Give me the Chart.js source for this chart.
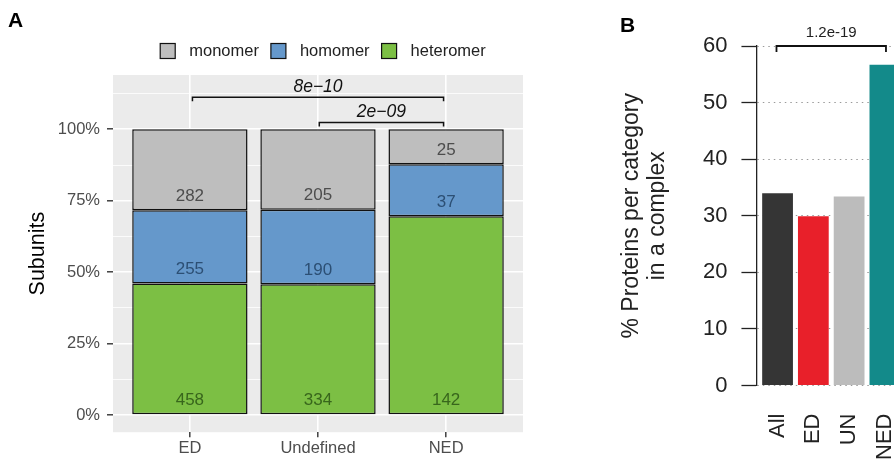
<!DOCTYPE html>
<html>
<head>
<meta charset="utf-8">
<script src="https://cdn.jsdelivr.net/npm/chart.js@4.4.0/dist/chart.umd.min.js"></script>
<style>
html, body { margin:0; padding:0; background:#fff; overflow:hidden; width:894px; height:459px; position:relative; }
#wrapA { position:absolute; left:0; top:0; }
#wrapB { position:absolute; left:580px; top:0; }
</style>
</head>
<body>
<div id="wrapA"><canvas id="chartA" width="560" height="459"></canvas></div>
<div id="wrapB"><canvas id="chartB" width="360" height="488"></canvas></div>
<script>
const FONT = '"Liberation Sans", Arial, Helvetica, sans-serif';

// A: subunit counts per disorder category
const groupsA = ['ED', 'Undefined', 'NED'];
const heteromer = [458, 334, 142];
const homomer = [255, 190, 37];
const monomer = [282, 205, 25];
const majorA = [0, 0.25, 0.5, 0.75, 1];
const minorA = [0.125, 0.375, 0.625, 0.875, 1.125];
// significance brackets (x in group units, y in fraction)
const bracketsA = [
  { from: 1.02, to: 2.98, y: 1.112, label: '8e\u221210' },
  { from: 2.01, to: 2.98, y: 1.024, label: '2e\u221209' }
];

// B: % proteins per category in a complex
const groupsB = ['All', 'ED', 'UN', 'NED'];
const pctB = [34.0, 29.9, 33.4, 56.7];
const colorsB = ['#353535', '#e8202a', '#bcbcbc', '#138a8a'];
const bracketB = { from: 0.97, to: 4.03, y: 60, label: '1.2e-19' };

const totals = heteromer.map((v, i) => v + homomer[i] + monomer[i]);
const share = arr => arr.map((v, i) => ({ x: i + 1, y: v / totals[i] }));

const seriesA = [
  { label: 'heteromer', counts: heteromer, fill: '#7cbf44', text: '#38661c' },
  { label: 'homomer', counts: homomer, fill: '#6598cb', text: '#2c4f74' },
  { label: 'monomer', counts: monomer, fill: '#bebebe', text: '#4d4d4d' }
];

const panelA = {
  id: 'panelA',
  beforeDraw(chart) {
    const { ctx, chartArea: a } = chart;
    ctx.save();
    ctx.fillStyle = '#ebebeb';
    ctx.fillRect(a.left, a.top, a.right - a.left, a.bottom - a.top);
    ctx.fillStyle = '#000';
    ctx.font = 'bold 21px ' + FONT;
    ctx.textBaseline = 'alphabetic';
    ctx.fillText('A', 8, 27);
    ctx.restore();
  },
  afterDatasetsDraw(chart) {
    const { ctx, scales: { x, y }, chartArea: a } = chart;
    ctx.save();
    // counts inside segments
    ctx.font = '17px ' + FONT;
    ctx.textAlign = 'center';
    ctx.textBaseline = 'middle';
    const base = groupsA.map(() => 0);
    seriesA.forEach((s, k) => {
      const meta = chart.getDatasetMeta(k);
      s.counts.forEach((c, j) => {
        ctx.fillStyle = s.text;
        ctx.fillText(String(c), meta.data[j].x, y.getPixelForValue(base[j] + 0.05));
        base[j] += c / totals[j];
      });
    });
    // brackets
    ctx.strokeStyle = '#111';
    ctx.lineWidth = 1.5;
    ctx.fillStyle = '#111';
    ctx.font = 'italic 17.5px ' + FONT;
    bracketsA.forEach(b => {
      const x1 = x.getPixelForValue(b.from), x2 = x.getPixelForValue(b.to);
      const py = y.getPixelForValue(b.y);
      ctx.beginPath();
      ctx.moveTo(x1, py + 4); ctx.lineTo(x1, py); ctx.lineTo(x2, py); ctx.lineTo(x2, py + 4);
      ctx.stroke();
      ctx.fillText(b.label, (x1 + x2) / 2, py - 10);
    });
    // legend
    ctx.font = '16.5px ' + FONT;
    ctx.textAlign = 'left';
    const items = seriesA.slice().reverse();
    const widths = items.map(s => ctx.measureText(s.label).width);
    const total = widths.reduce((p, w) => p + 15 + 14 + w, 0) + 12 * (items.length - 1);
    let lx = (a.left + a.right) / 2 + 5 - total / 2;
    const ly = 51;
    items.forEach((s, i) => {
      ctx.fillStyle = s.fill;
      ctx.fillRect(lx, ly - 7.5, 15, 15);
      ctx.lineWidth = 1.2;
      ctx.strokeStyle = '#111';
      ctx.strokeRect(lx, ly - 7.5, 15, 15);
      ctx.fillStyle = '#222';
      ctx.fillText(s.label, lx + 29, ly);
      lx += 29 + widths[i] + 12;
    });
    ctx.restore();
  }
};

new Chart(document.getElementById('chartA'), {
  type: 'bar',
  data: {
    datasets: seriesA.map(s => ({
      label: s.label,
      data: share(s.counts),
      backgroundColor: s.fill,
      borderColor: '#111',
      borderWidth: 1.5,
      borderSkipped: false,
      barPercentage: 0.9,
      categoryPercentage: 1
    }))
  },
  options: {
    responsive: false,
    animation: false,
    layout: { padding: { top: 75, right: 37, left: 0, bottom: 0 } },
    plugins: { legend: { display: false }, tooltip: { enabled: false } },
    scales: {
      x: {
        type: 'linear', min: 0.4, max: 3.6, stacked: true, offset: false,
        afterBuildTicks: s => { s.ticks = groupsA.map((g, i) => ({ value: i + 1 })); },
        ticks: { callback: v => groupsA[v - 1], color: '#4d4d4d', font: { size: 16.5, family: FONT }, padding: 1, autoSkip: false, maxRotation: 0 },
        grid: { offset: false, color: '#ffffff', lineWidth: 1.6, tickColor: '#333', tickLength: 5, tickWidth: 1.4 },
        border: { display: false }
      },
      y: {
        type: 'linear', min: -0.06, max: 1.19, stacked: true,
        afterBuildTicks: s => { s.ticks = majorA.concat(minorA).sort((p, q) => p - q).map(v => ({ value: v })); },
        ticks: { callback: v => majorA.includes(v) ? Math.round(v * 100) + '%' : '', color: '#4d4d4d', font: { size: 16.5, family: FONT }, padding: 7, autoSkip: false },
        grid: {
          color: '#ffffff',
          lineWidth: c => majorA.includes(c.tick && c.tick.value) ? 1.6 : 0.8,
          tickColor: c => majorA.includes(c.tick && c.tick.value) ? '#333' : 'rgba(0,0,0,0)',
          tickLength: 6, tickWidth: 1.4
        },
        border: { display: false },
        title: { display: true, text: 'Subunits', color: '#000', font: { size: 21.5, family: FONT }, padding: { top: 25, bottom: 0 } }
      }
    }
  },
  plugins: [panelA]
});

const panelB = {
  id: 'panelB',
  afterDraw(chart) {
    const { ctx, scales: { x, y } } = chart;
    ctx.save();
    ctx.fillStyle = '#000';
    ctx.font = 'bold 21px ' + FONT;
    ctx.fillText('B', 40, 32);
    const x1 = x.getPixelForValue(bracketB.from), x2 = x.getPixelForValue(bracketB.to);
    const py = y.getPixelForValue(bracketB.y);
    ctx.strokeStyle = '#111';
    ctx.lineWidth = 1.8;
    ctx.beginPath();
    ctx.moveTo(x1, py + 6); ctx.lineTo(x1, py); ctx.lineTo(x2, py); ctx.lineTo(x2, py + 6);
    ctx.stroke();
    ctx.fillStyle = '#222';
    ctx.font = '15px ' + FONT;
    ctx.textAlign = 'center';
    ctx.textBaseline = 'middle';
    ctx.fillText(bracketB.label, (x1 + x2) / 2, py - 13);
    ctx.restore();
  }
};

new Chart(document.getElementById('chartB'), {
  type: 'bar',
  data: {
    datasets: [{
      data: pctB.map((v, i) => ({ x: i + 1, y: v })),
      backgroundColor: colorsB,
      borderWidth: 0,
      barPercentage: 0.86,
      categoryPercentage: 1
    }]
  },
  options: {
    responsive: false,
    animation: false,
    layout: { padding: { top: 46, right: 0, left: 0, bottom: 0 } },
    plugins: { legend: { display: false }, tooltip: { enabled: false } },
    scales: {
      x: {
        type: 'linear', min: 0.41, max: 5.54, offset: false,
        afterBuildTicks: s => { s.ticks = groupsB.map((g, i) => ({ value: i + 1 })); },
        ticks: { callback: v => groupsB[v - 1], color: '#222', font: { size: 22, family: FONT }, padding: 28, autoSkip: false, minRotation: 90, maxRotation: 90 },
        grid: { display: false, drawTicks: false, offset: false },
        border: { display: false }
      },
      y: {
        min: 0, max: 60,
        ticks: { stepSize: 10, color: '#222', font: { size: 22, family: FONT }, padding: 14 },
        grid: { color: '#9a9a9a', lineWidth: 1, tickColor: '#222', tickLength: 15, tickWidth: 1.3 },
        border: { display: true, color: '#222', width: 1.3, dash: [1.5, 4] },
        title: { display: true, text: ['% Proteins per category', 'in a complex'], color: '#222', font: { size: 23, family: FONT, lineHeight: 1.13 }, padding: { top: 39, bottom: 18 } }
      }
    }
  },
  plugins: [panelB]
});
</script>
</body>
</html>
